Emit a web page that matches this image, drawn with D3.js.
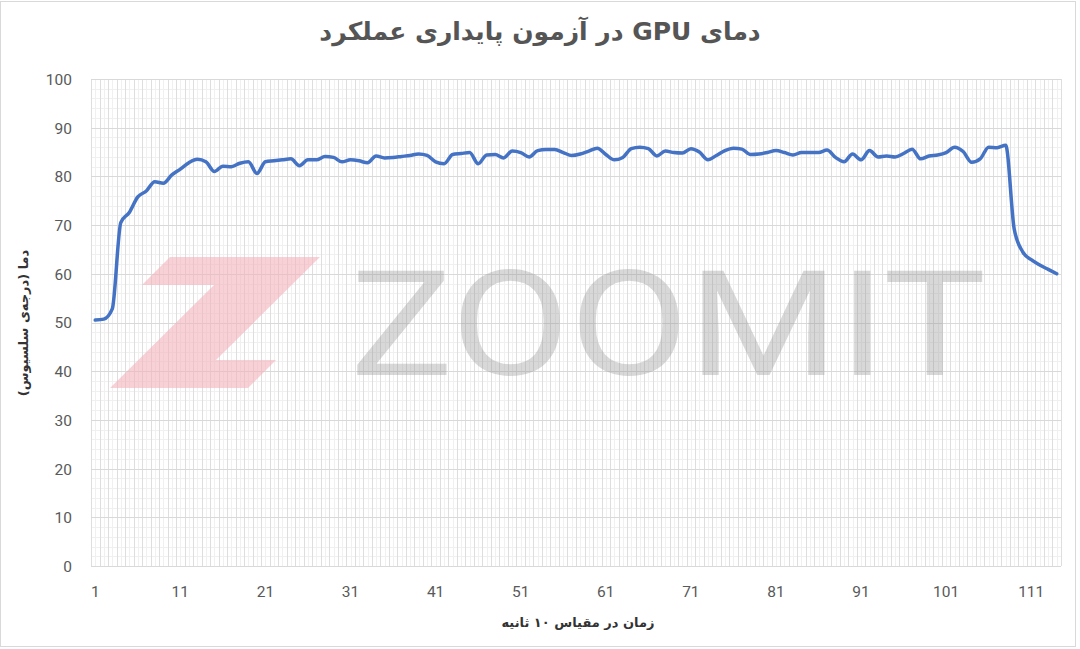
<!DOCTYPE html>
<html>
<head>
<meta charset="utf-8">
<script src="https://cdn.jsdelivr.net/npm/d3@7"></script>
<style>
  html, body { margin: 0; padding: 0; background: #fff; }
  svg { display: block; }
</style>
</head>
<body>
<svg id="chart" width="1080" height="649"></svg>
<script>
// ---- Data ----
const titleText = "دمای GPU در آزمون پایداری عملکرد";
const xAxisTitle = "زمان در مقیاس ۱۰ ثانیه";
const yAxisTitle = "دما (درجه‌ی سلسیوس)";
const categories = d3.range(1, 115); // 1..114 (10-second steps)
const temperatures = [
  50.5, 50.7, 52.8, 70.5, 72.6, 75.8, 77.0, 78.9, 78.6, 80.3,
  81.5, 82.8, 83.5, 83.0, 81.0, 82.1, 82.0, 82.7, 83.0, 80.6,
  83.0, 83.2, 83.4, 83.6, 82.2, 83.4, 83.4, 84.1, 83.9, 83.0,
  83.4, 83.2, 82.8, 84.2, 83.8, 83.9, 84.1, 84.3, 84.6, 84.3,
  83.0, 82.6, 84.5, 84.7, 84.9, 82.6, 84.4, 84.5, 83.8, 85.2,
  84.9, 84.0, 85.3, 85.5, 85.5, 84.9, 84.3, 84.6, 85.2, 85.8,
  84.5, 83.4, 83.9, 85.7, 86.0, 85.7, 84.2, 85.2, 84.9, 84.8,
  85.7, 85.0, 83.4, 84.3, 85.3, 85.8, 85.6, 84.5, 84.6, 84.9,
  85.3, 84.9, 84.4, 84.9, 84.9, 84.9, 85.4, 83.9, 83.0, 84.6,
  83.4, 85.3, 84.0, 84.2, 84.0, 84.7, 85.6, 83.6, 84.2, 84.4,
  84.9, 86.0, 85.1, 82.9, 83.6, 86.0, 85.9, 86.4, 69.2, 64.5,
  62.9, 61.8, 60.9, 60.0
];
const xTickLabels = [1, 11, 21, 31, 41, 51, 61, 71, 81, 91, 101, 111];
const yTickLabels = [0, 10, 20, 30, 40, 50, 60, 70, 80, 90, 100];

// ---- Layout ----
const svg = d3.select("#chart");
const plot = { left: 91, right: 1061, top: 79, bottom: 566 };

// chart area frame
svg.append("rect")
  .attr("x", 0.5).attr("y", 1.5).attr("width", 1075).attr("height", 645)
  .attr("fill", "#fff").attr("stroke", "#d9d9d9").attr("stroke-width", 1);

const x = d3.scaleBand()
  .domain(categories)
  .range([plot.left, plot.right])
  .paddingInner(0).paddingOuter(0);
const xc = d => x(d) + x.bandwidth() / 2;

const y = d3.scaleLinear().domain([0, 100]).range([plot.bottom, plot.top]);

const grid = svg.append("g");

// minor horizontal gridlines (every 2)
grid.selectAll("line.hmin")
  .data(d3.range(0, 101, 2).filter(v => v % 10 !== 0))
  .join("line")
  .attr("x1", plot.left).attr("x2", plot.right)
  .attr("y1", d => Math.round(y(d)) + 0.5).attr("y2", d => Math.round(y(d)) + 0.5)
  .attr("stroke", "#f0f0f0").attr("stroke-width", 1);

// minor vertical gridlines (mid-category)
grid.selectAll("line.vmin")
  .data(categories)
  .join("line")
  .attr("x1", d => Math.round(xc(d)) + 0.5).attr("x2", d => Math.round(xc(d)) + 0.5)
  .attr("y1", plot.top).attr("y2", plot.bottom)
  .attr("stroke", "#f0f0f0").attr("stroke-width", 1);

// major vertical gridlines (category boundaries)
grid.selectAll("line.vmaj")
  .data(categories.concat([categories.length + 1]))
  .join("line")
  .attr("x1", d => Math.round(d <= categories.length ? x(d) : plot.right) + 0.5)
  .attr("x2", d => Math.round(d <= categories.length ? x(d) : plot.right) + 0.5)
  .attr("y1", plot.top).attr("y2", plot.bottom)
  .attr("stroke", "#dedede").attr("stroke-width", 1);

// major horizontal gridlines
grid.selectAll("line.hmaj")
  .data(yTickLabels)
  .join("line")
  .attr("x1", plot.left).attr("x2", plot.right)
  .attr("y1", d => Math.round(y(d)) + 0.5).attr("y2", d => Math.round(y(d)) + 0.5)
  .attr("stroke", "#d9d9d9").attr("stroke-width", 1);

// ---- Watermark ----
const wm = svg.append("g").attr("pointer-events", "none");
wm.append("polygon")
  .attr("points", [[170,257],[320,257],[216,360],[276,360],[248,388],[110,388],[214,285],[142,285]].map(p => p.join(",")).join(" "))
  .attr("fill", "#f3b3bd").attr("opacity", 0.6);
wm.append("text")
  .attr("x", 350).attr("y", 375)
  .attr("textLength", 636).attr("lengthAdjust", "spacingAndGlyphs")
  .attr("font-family", "Roboto, sans-serif")
  .attr("font-size", 146)
  .attr("font-weight", 400)
  .attr("fill", "#9a9a9a").attr("opacity", 0.38)
  .text("ZOOMIT");

// ---- Axes labels ----
const yAxis = d3.axisLeft(y).tickValues(yTickLabels).tickSize(0).tickPadding(0);
const gy = svg.append("g").attr("transform", `translate(${72},0)`).call(yAxis);
gy.select(".domain").remove();
gy.selectAll("text")
  .attr("font-family", "Roboto, sans-serif").attr("font-size", 15.5)
  .attr("fill", "#595959").attr("x", 0).attr("dy", "0.35em");

const xAxis = d3.axisBottom(x).tickValues(xTickLabels).tickSize(0).tickPadding(0);
const gx = svg.append("g").attr("transform", `translate(0,${plot.bottom})`).call(xAxis);
gx.select(".domain").remove();
gx.selectAll("text")
  .attr("font-family", "Roboto, sans-serif").attr("font-size", 15.5)
  .attr("fill", "#595959").attr("y", 26).attr("dy", "0.35em");

// ---- Line ----
const line = d3.line()
  .x((d, i) => xc(categories[i]))
  .y(d => y(d))
  .curve(d3.curveMonotoneX);
svg.append("path")
  .datum(temperatures)
  .attr("d", line)
  .attr("fill", "none")
  .attr("stroke", "#4472c4")
  .attr("stroke-width", 3.5)
  .attr("stroke-linejoin", "round")
  .attr("stroke-linecap", "round");

// ---- Titles ----
svg.append("text")
  .attr("x", 540).attr("y", 40)
  .attr("text-anchor", "middle")
  .attr("direction", "rtl")
  .attr("font-family", "'DejaVu Sans', sans-serif")
  .attr("font-weight", "bold")
  .attr("font-size", 25)
  .attr("fill", "#555555")
  .text(titleText);

svg.append("text")
  .attr("x", 578).attr("y", 627)
  .attr("text-anchor", "middle")
  .attr("direction", "rtl")
  .attr("font-family", "'DejaVu Sans', sans-serif")
  .attr("font-weight", "bold")
  .attr("font-size", 13)
  .attr("fill", "#333333")
  .text(xAxisTitle);

svg.append("text")
  .attr("transform", "translate(28,323) rotate(-90)")
  .attr("text-anchor", "middle")
  .attr("direction", "rtl")
  .attr("font-family", "'DejaVu Sans', sans-serif")
  .attr("font-weight", "bold")
  .attr("font-size", 13)
  .attr("fill", "#333333")
  .text(yAxisTitle);
</script>
</body>
</html>
